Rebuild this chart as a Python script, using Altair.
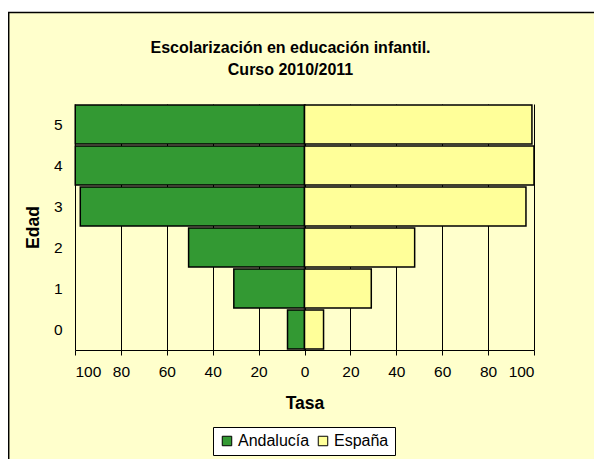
import altair as alt
import pandas as pd

# ---- data ----
edades = [0, 1, 2, 3, 4, 5]
andalucia = [7.4, 30.8, 50.5, 97.7, 99.9, 99.9]
espana = [8.3, 29.1, 48.0, 96.5, 100.0, 99.1]
series = ["Andalucía", "España"]
colores = ["#339933", "#FFFF99"]
tick_values = [-100, -80, -60, -40, -20, 0, 20, 40, 60, 80, 100]
titulo = ["Escolarización en educación infantil.", "Curso 2010/2011"]

rows = []
for e, a, s in zip(edades, andalucia, espana):
    rows.append({"Edad": e, "Serie": series[0], "Tasa": a, "pos": -a})
    rows.append({"Edad": e, "Serie": series[1], "Tasa": s, "pos": s})
df = pd.DataFrame(rows)

W, H = 459, 246
BG = "#FFFFCC"
FONT = "Liberation Sans"

bars = alt.Chart(df).mark_bar(stroke="black", strokeWidth=1.5).encode(
    x=alt.X(
        "pos:Q",
        title="Tasa",
        scale=alt.Scale(domain=[-100, 100], nice=False),
        axis=alt.Axis(
            values=tick_values,
            labelExpr="abs(datum.value)",
            grid=True,
            gridColor="black",
            gridWidth=1,
            domainColor="black",
            domainWidth=1,
            tickColor="black",
            tickSize=5,
            labelFontSize=15.5,
            labelPadding=9,
            labelColor="black",
            titleFontSize=17.5,
            titleFontWeight="bold",
            titleColor="black",
            titlePadding=15,
        ),
    ),
    y=alt.Y(
        "Edad:O",
        title="Edad",
        sort="descending",
        scale=alt.Scale(paddingInner=0.05, paddingOuter=0.025),
        axis=alt.Axis(
            domain=False,
            ticks=False,
            labelFontSize=15.5,
            labelPadding=13,
            labelColor="black",
            labelAngle=0,
            titleFontSize=17.5,
            titleFontWeight="bold",
            titleColor="black",
            titlePadding=11,
        ),
    ),
    color=alt.Color(
        "Serie:N",
        scale=alt.Scale(domain=series, range=colores),
        legend=alt.Legend(
            title=None,
            orient="none",
            legendX=138,
            legendY=323,
            direction="horizontal",
            fillColor="white",
            strokeColor="black",
            padding=6,
            labelFontSize=16,
            labelColor="black",
            labelOffset=3,
            columnPadding=5,
            symbolType="square",
            symbolSize=90,
            symbolStrokeColor="black",
            symbolStrokeWidth=1,
            symbolOpacity=1,
        ),
    ),
)

one = alt.Data(values=[{}])
strip = alt.Chart(one).mark_rect(fill="white").encode(
    x=alt.value(-70), x2=alt.value(620), y=alt.value(-100), y2=alt.value(-92)
)
top_edge = alt.Chart(one).mark_rule(color="black", strokeWidth=1.5).encode(
    x=alt.value(-67), x2=alt.value(620), y=alt.value(-91.5)
)
left_edge = alt.Chart(one).mark_rule(color="black", strokeWidth=1.5).encode(
    x=alt.value(-66.3), y=alt.value(-92), y2=alt.value(420)
)
title_text = alt.Chart(one).mark_text(
    text="\n".join(titulo), lineBreak="\n", lineHeight=22, fontSize=16,
    fontWeight="bold", font=FONT, color="black", align="center", baseline="top",
).encode(x=alt.value(215.5), y=alt.value(-64))

chart = alt.layer(bars, strip, top_edge, left_edge, title_text).properties(
    width=W, height=H,
    autosize=alt.AutoSizeParams(type="none"),
    padding={"left": 67, "top": 96, "right": 60, "bottom": 109},
    background=BG,
).configure(font=FONT).configure_view(strokeWidth=0)

chart.save("out.html", embed_options={"renderer": "svg", "actions": False})
